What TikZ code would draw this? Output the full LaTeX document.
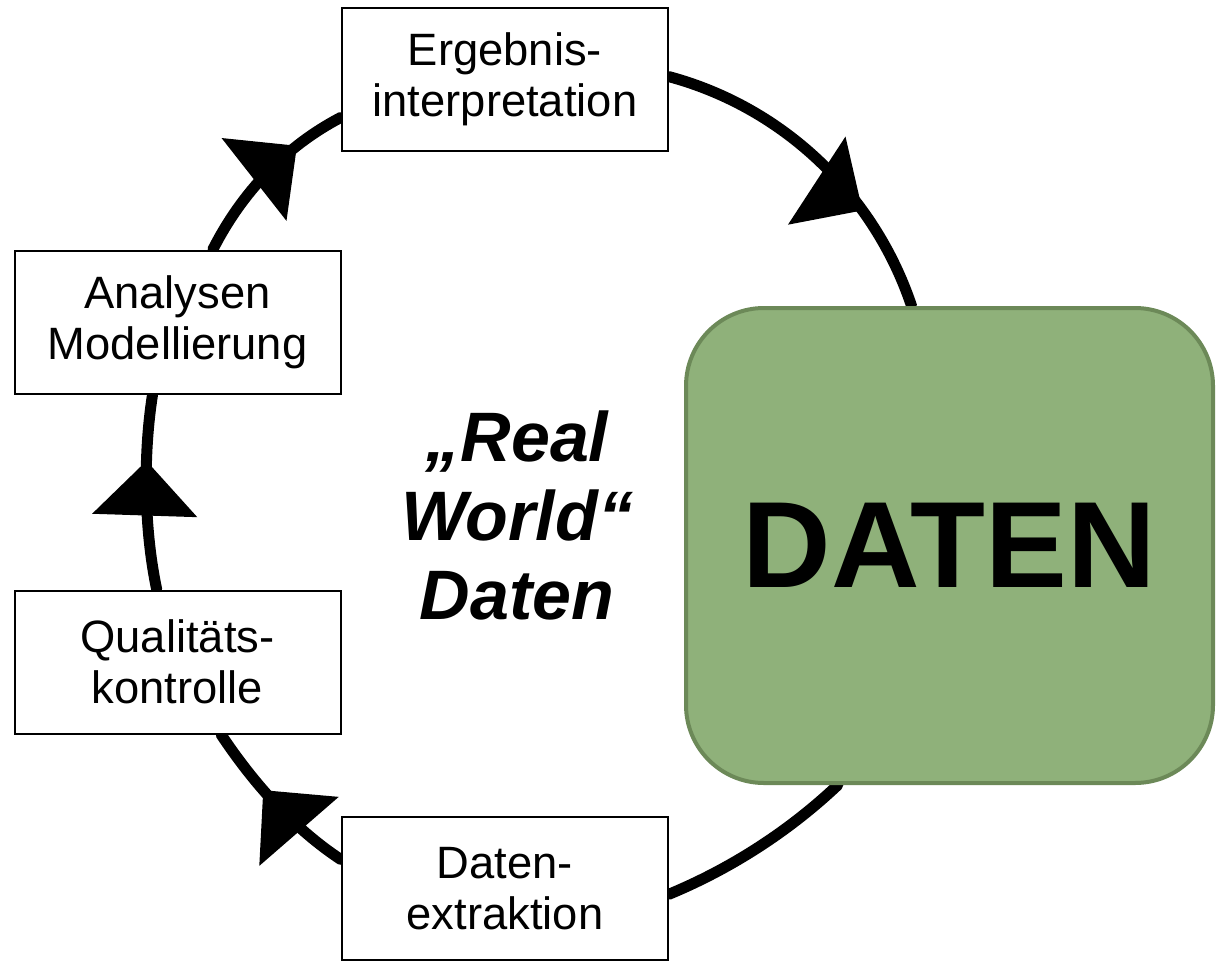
\documentclass[tikz,border=0pt]{standalone}
\usepackage{fontspec}
\setmainfont{Liberation Sans}
\usetikzlibrary{arrows.meta,decorations.markings,backgrounds}
\definecolor{datengruen}{RGB}{143,177,122}
\definecolor{datenrand}{RGB}{108,137,88}
\tikzset{
  stepbox/.style={draw=black, line width=1.5pt, fill=white, minimum width=244.5pt, minimum height=107.25pt, inner sep=0pt, align=center, font=\fontsize{34pt}{38pt}\selectfont},
  databox/.style={draw=datenrand, line width=3pt, fill=datengruen, rounded corners=58.5pt, minimum width=395.25pt, minimum height=356.25pt, inner sep=0pt, font=\fontsize{92pt}{92pt}\selectfont\bfseries},
  ring/.style={draw=black, line width=8.25pt, line cap=round},
  ringpfeil/.style 2 args={postaction={decorate, decoration={markings, mark=at position #1 with {\pgftransformrotate{#2}\arrow{Triangle[length=41pt, width=77pt]}}}}}
}
\begin{document}
\begin{tikzpicture}[x=0.75pt,y=0.75pt,yscale=-1,xscale=1]
\useasboundingbox (0,0) rectangle (1216,960);

% Text Node
\node[stepbox] (ergebnis) at (505,79.5) {Ergebnis-\\interpretation};
% Text Node
\node[stepbox] (analyse) at (177.5,322) {Analysen\\Modellierung};
% Text Node
\node[stepbox] (qualitaet) at (177.5,662) {Qualitäts-\\kontrolle};
% Text Node
\node[stepbox] (extraktion) at (505,888.5) {Daten-\\extraktion};
%Shape: Rounded Rectangle
\node[databox] (daten) at (949.5,545.5) {DATEN};
% Text Node
\node[align=center, inner sep=0pt, font=\fontsize{52.5pt}{59pt}\selectfont\bfseries\itshape] (realworld) at (517,515.5) {„Real\\World“\\Daten};

\begin{scope}[on background layer]
%Curve Lines
\draw[ring, ringpfeil={0.6}{0}] (extraktion.170) .. controls (293,828) and (253,782.5) .. (qualitaet.-59);
%Curve Lines
\draw[ring, ringpfeil={0.66}{0}] (qualitaet.106) .. controls (144,528.8) and (143,455.8) .. (analyse.251);
%Curve Lines
\draw[ring, ringpfeil={0.72}{0}] (analyse.64) .. controls (242,192) and (286,146) .. (ergebnis.193);
%Curve Lines
\draw[ring, ringpfeil={0.69}{21}] (ergebnis.1.5) .. controls (783.7,107.5) and (874.3,194.6) .. (daten.99);
%Curve Lines
\draw[ring] (daten.245) .. controls (789.3,830.9) and (731.3,868.4) .. (extraktion.-2);
\end{scope}

\end{tikzpicture}
\end{document}
